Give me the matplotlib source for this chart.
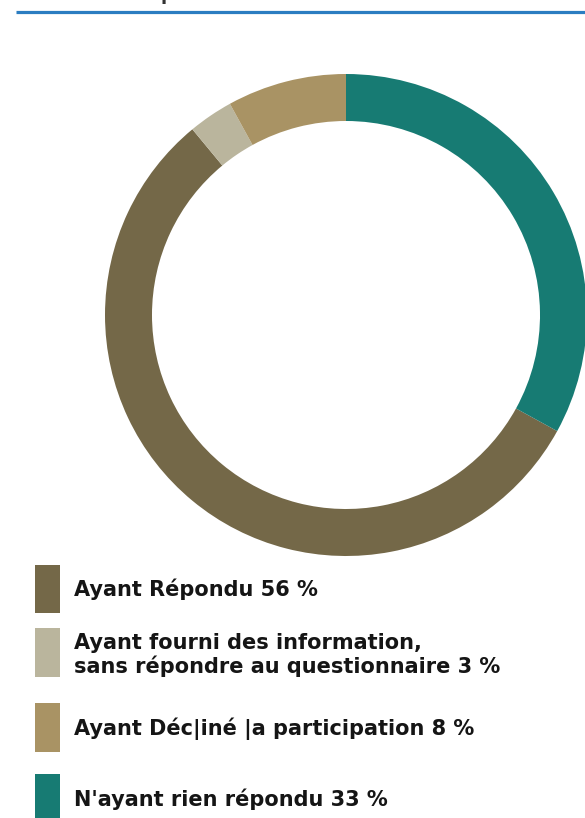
import matplotlib.pyplot as plt
from matplotlib.patches import Rectangle

plt.rcParams['font.family'] = ['DejaVu Sans']

# data (legend order)
labels = ['Ayant Répondu 56 %',
          'Ayant fourni des information,\nsans répondre au questionnaire 3 %',
          'Ayant Déc|iné |a participation 8 %',
          "N'ayant rien répondu 33 %"]
shares = [56, 3, 8, 33]
colors = ['#746848', '#bab59d', '#a99364', '#177b73']

W, H = 585, 818
fig = plt.figure(figsize=(W / 100, H / 100), dpi=100)

# overlay axes in pixel units for the rule and legend
ov = fig.add_axes([0, 0, 1, 1])
ov.set_xlim(0, W)
ov.set_ylim(H, 0)
ov.axis('off')

# top rule and cut-off title glyph
ov.plot([16, W], [12, 12], color='#2b7dc1', linewidth=2.3, solid_capstyle='butt')
ov.text(160, 0.2, 'p', fontsize=13, fontweight='bold', color='#333333', va='baseline')

# donut
cx, cy, r = 346, 315, 241
ax = fig.add_axes([(cx - r) / W, 1 - (cy + r) / H, 2 * r / W, 2 * r / H])
start = 90 - 360 * shares[-1] / sum(shares)
ax.pie(shares, colors=colors, startangle=start, counterclock=False,
       radius=1, wedgeprops=dict(width=0.195, linewidth=0))
ax.set_xlim(-1, 1)
ax.set_ylim(-1, 1)
ax.set_aspect('equal')
ax.axis('off')

# legend
box_y = [565, 628, 703, 774]
box_h = [48, 49, 49, 50]
text_y = [589, 655, 729, 799]
for lab, c, y0, h, ty in zip(labels, colors, box_y, box_h, text_y):
    ov.add_patch(Rectangle((35, y0), 25, h, color=c, linewidth=0))
    ov.text(74, ty, lab, fontsize=15, fontweight='bold', color='#151515',
            va='center', ha='left', linespacing=1.12)

fig.savefig('out.png', dpi=100)
